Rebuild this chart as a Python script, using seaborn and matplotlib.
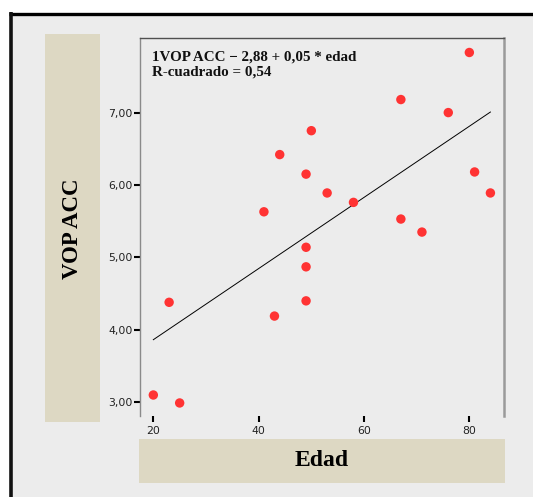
import matplotlib
matplotlib.use("Agg")
import matplotlib.pyplot as plt
from matplotlib.patches import Rectangle
from matplotlib.lines import Line2D
import numpy as np
import pandas as pd
import seaborn as sns

# ---- data ----
edad = [80, 67, 76, 50, 44, 49, 81, 84, 53, 58, 41, 67, 71, 49, 49, 23, 49, 43, 20, 25]
vop_acc = [7.83, 7.18, 7.00, 6.75, 6.42, 6.15, 6.18, 5.89, 5.89, 5.76, 5.63, 5.53,
           5.35, 5.14, 4.87, 4.38, 4.40, 4.19, 3.10, 2.99]
x_ticks = [20, 40, 60, 80]
x_ticklabels = ["20", "40", "60", "80"]
y_ticks = [3, 4, 5, 6, 7]
y_ticklabels = ["3,00", "4,00", "5,00", "6,00", "7,00"]
x_label = "Edad"
y_label = "VOP ACC"
annot_lines = ["1VOP ACC \u2212 2,88 + 0,05 * edad", "R-cuadrado = 0,54"]

df = pd.DataFrame({"edad": edad, "vop": vop_acc})

W, H = 533, 497
fig = plt.figure(figsize=(W / 100, H / 100), dpi=100, facecolor="white")

def fx(px):
    return px / W

def fy(py):
    return 1 - py / H

BG = "#ececec"
BEIGE = "#ddd8c3"

# background panel
fig.patches.append(Rectangle((fx(10), 0), 1 - fx(10), fy(13), transform=fig.transFigure,
                             facecolor=BG, edgecolor="none", zorder=-3))
# black frame (top & left)
fig.lines.append(Line2D([fx(9), 1], [fy(13.5), fy(13.5)], transform=fig.transFigure,
                        color="black", lw=2.4, solid_capstyle="butt", zorder=-1))
fig.lines.append(Line2D([fx(10.7), fx(10.7)], [0, fy(12)], transform=fig.transFigure,
                        color="#111111", lw=2.6, solid_capstyle="butt", zorder=-1))
# beige label boxes
fig.patches.append(Rectangle((fx(45), fy(422)), fx(100) - fx(45), fy(34) - fy(422),
                             transform=fig.transFigure, facecolor=BEIGE, edgecolor="none", zorder=-2))
fig.patches.append(Rectangle((fx(139), fy(483)), fx(505) - fx(139), fy(439) - fy(483),
                             transform=fig.transFigure, facecolor=BEIGE, edgecolor="none", zorder=-2))

ax = fig.add_axes([fx(140), fy(416), fx(504) - fx(140), fy(38) - fy(416)])
ax.set_zorder(2)
ax.set_facecolor(BG)

sns.regplot(data=df, x="edad", y="vop", ax=ax, ci=None,
            scatter_kws=dict(s=46, color="#ff3333", edgecolors="none", alpha=1, zorder=3),
            line_kws=dict(color="black", lw=0.7, zorder=2))

ax.set_xlim(17.47, 86.58)
ax.set_ylim(2.81, 8.03)
ax.set_xlabel("")
ax.set_ylabel("")
ax.set_xticks(x_ticks, labels=x_ticklabels)
ax.set_yticks(y_ticks, labels=y_ticklabels)
ax.tick_params(axis="both", direction="out", length=4.3, width=1.5, color="black",
               labelsize=7.8, labelcolor="#222222")
ax.tick_params(axis="y", pad=1.2)
ax.tick_params(axis="x", pad=3)
for lab in ax.get_xticklabels() + ax.get_yticklabels():
    lab.set_fontfamily("DejaVu Sans")

ax.spines["bottom"].set_visible(False)
ax.spines["left"].set_color("#8a8a8a")
ax.spines["left"].set_linewidth(1.0)
ax.spines["top"].set_color("#505050")
ax.spines["top"].set_linewidth(1.0)
ax.spines["right"].set_color("#9a9a9a")
ax.spines["right"].set_linewidth(1.8)

ann_x = (152 - 140) / (504 - 140)
ax.text(ann_x, 1 - (51 - 38) / (416 - 38), annot_lines[0], transform=ax.transAxes,
        ha="left", va="top", fontsize=10.8, fontfamily="Liberation Serif", fontweight="bold",
        color="#111111")
ax.text(ann_x, 1 - (66 - 38) / (416 - 38), annot_lines[1], transform=ax.transAxes,
        ha="left", va="top", fontsize=10.8, fontfamily="Liberation Serif", fontweight="bold",
        color="#111111")

fig.text(fx(72.5), fy(229), y_label, rotation=90, ha="center", va="center",
         fontsize=16.5, fontfamily="Liberation Serif", fontweight="bold", color="black")
fig.text(fx(322), fy(461), x_label, ha="center", va="center",
         fontsize=17, fontfamily="Liberation Serif", fontweight="bold", color="black")

fig.savefig("out.png", dpi=100, facecolor="white")
